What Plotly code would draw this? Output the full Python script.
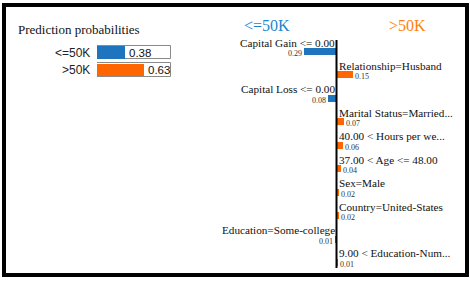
import plotly.graph_objects as go

W, H = 470, 281

# ---- data ----
classes = ["<=50K", ">50K"]
class_probs = [0.38, 0.63]
features = [
    "Capital Gain <= 0.00",
    "Relationship=Husband",
    "Capital Loss <= 0.00",
    "Marital Status=Married...",
    "40.00 < Hours per we...",
    "37.00 < Age <= 48.00",
    "Sex=Male",
    "Country=United-States",
    "Education=Some-college",
    "9.00 < Education-Num...",
]
weights = [-0.29, 0.15, -0.08, 0.07, 0.06, 0.04, 0.02, 0.02, -0.01, 0.01]

BLUE = "#1f74be"
ORANGE = "#ff6600"
TITLE_BLUE = "#1a87d0"
TITLE_ORANGE = "#ff7f0e"
SERIF = "Liberation Serif"
SANS = "Liberation Sans"

# ---- geometry (pixel -> axis ranges) ----
zero_px, px_per_unit = 336.5, 112.0
row0_px, row_step = 51.5, 23.44
prob_row0, prob_step = 52.5, 17.5

fig = go.Figure()

# prediction probability boxes
fig.add_trace(go.Bar(
    x=[1] * len(classes), y=classes, orientation="h",
    marker=dict(color="white", line=dict(color="#8a8a8a", width=1)),
    width=0.78, xaxis="x", yaxis="y", hoverinfo="skip", showlegend=False))
fig.add_trace(go.Bar(
    x=class_probs, y=classes, orientation="h",
    marker=dict(color=[BLUE, ORANGE], line=dict(width=0)),
    width=0.70, xaxis="x", yaxis="y", showlegend=False))

# explanation bars
fig.add_trace(go.Bar(
    x=weights, y=features, orientation="h",
    marker=dict(color=[ORANGE if w > 0 else BLUE for w in weights], line=dict(width=0)),
    width=0.30, xaxis="x2", yaxis="y2", showlegend=False))

ann = []
# prob labels
for c, p in zip(classes, class_probs):
    ann.append(dict(x=0, y=c, xref="x", yref="y", text=c, showarrow=False,
                    xanchor="right", yanchor="middle", xshift=-6, borderpad=0,
                    font=dict(family=SANS, size=12, color="#222")))
    ann.append(dict(x=p, y=c, xref="x", yref="y", text=f"{p:.2f}", showarrow=False,
                    xanchor="left", yanchor="middle", xshift=3, borderpad=0,
                    font=dict(family=SANS, size=11.5, color="#111")))

# feature labels and values
for f, w in zip(features, weights):
    if w < 0:
        ann.append(dict(x=0, y=f, xref="x2", yref="y2", text=f, showarrow=False,
                        xanchor="right", yanchor="middle", xshift=-1, yshift=9, borderpad=0,
                        font=dict(family=SERIF, size=11.2, color="#111")))
        ann.append(dict(x=w, y=f, xref="x2", yref="y2", text=f"{abs(w):.2f}", showarrow=False,
                        xanchor="right", yanchor="middle", xshift=-1, yshift=-2, borderpad=0,
                        font=dict(family=SERIF, size=8, color="#333")))
    else:
        ann.append(dict(x=0, y=f, xref="x2", yref="y2", text=f, showarrow=False,
                        xanchor="left", yanchor="middle", xshift=1.5, yshift=9, borderpad=0,
                        font=dict(family=SERIF, size=11.2, color="#111")))
        ann.append(dict(x=w, y=f, xref="x2", yref="y2", text=f"{abs(w):.2f}", showarrow=False,
                        xanchor="left", yanchor="middle", xshift=1, yshift=-2, borderpad=0,
                        font=dict(family=SERIF, size=8, color="#333")))

# titles
ann.append(dict(x=17 / W, y=1 - 30 / H, xref="paper", yref="paper", text="Prediction probabilities",
                showarrow=False, xanchor="left", yanchor="middle", borderpad=0,
                font=dict(family=SERIF, size=13, color="#111")))
ann.append(dict(x=(267 - zero_px) / px_per_unit, y=1 - 25 / H, xref="x2", yref="paper", text=classes[0],
                showarrow=False, xanchor="center", yanchor="middle", borderpad=0,
                font=dict(family=SERIF, size=16, color=TITLE_BLUE)))
ann.append(dict(x=(407 - zero_px) / px_per_unit, y=1 - 25 / H, xref="x2", yref="paper", text=classes[1],
                showarrow=False, xanchor="center", yanchor="middle", borderpad=0,
                font=dict(family=SERIF, size=16, color=TITLE_ORANGE)))

shapes = [
    dict(type="line", xref="x2", yref="paper", x0=0, x1=0,
         y0=1 - 268 / H, y1=1 - 40 / H, line=dict(color="black", width=2)),
    dict(type="rect", xref="paper", yref="paper", x0=4 / W, x1=467 / W,
         y0=1 - 275 / H, y1=1 - 5 / H, line=dict(color="black", width=4)),
]

fig.update_layout(
    width=W, height=H, margin=dict(l=0, r=0, t=0, b=0),
    paper_bgcolor="white", plot_bgcolor="rgba(0,0,0,0)",
    barmode="overlay", bargap=0,
    xaxis=dict(domain=[97 / W, 171 / W], range=[0, 1], visible=False, anchor="y", fixedrange=True),
    yaxis=dict(domain=[0, 1], type="category", categoryorder="array", categoryarray=classes,
               range=[(H - prob_row0) / prob_step, -prob_row0 / prob_step],
               visible=False, anchor="x"),
    xaxis2=dict(domain=[0, 1], range=[-zero_px / px_per_unit, (W - zero_px) / px_per_unit],
                visible=False, anchor="y2"),
    yaxis2=dict(domain=[0, 1], type="category", categoryorder="array", categoryarray=features,
                range=[(H - row0_px) / row_step, -row0_px / row_step],
                visible=False, anchor="x2"),
    annotations=ann, shapes=shapes,
)

fig.write_html(
    "out.html",
    config={"displayModeBar": False},
    post_script="document.body.style.margin='0';document.body.style.padding='0';"
                "document.body.style.overflow='hidden';",
)
